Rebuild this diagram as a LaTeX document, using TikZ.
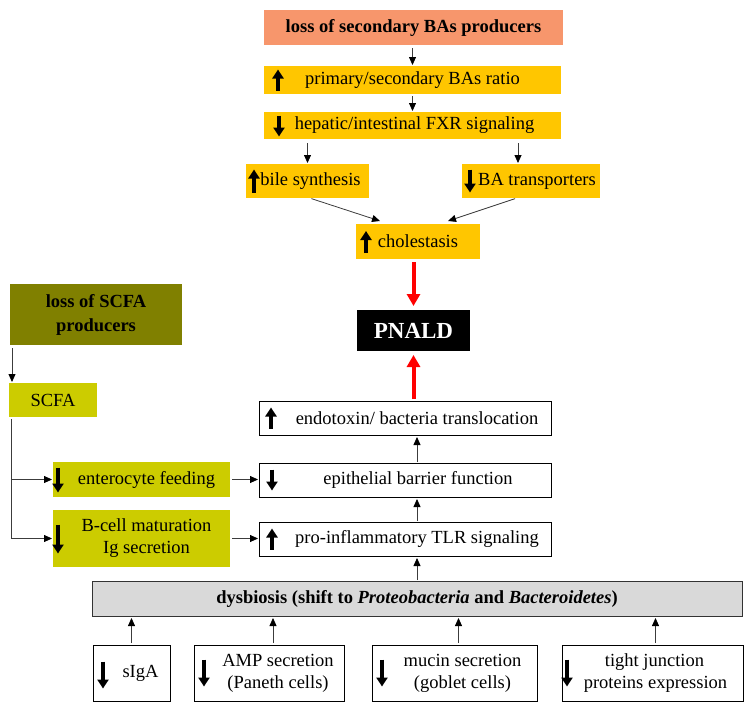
\documentclass[tikz,border=0pt]{standalone}
\usepackage{fontspec}
\setmainfont{Liberation Serif}
\usetikzlibrary{arrows.meta,calc}
\definecolor{salmon}{RGB}{247,150,108}
\definecolor{gold}{RGB}{255,198,0}
\definecolor{olivebox}{RGB}{128,128,0}
\definecolor{limebox}{RGB}{204,204,0}
\definecolor{graybox}{RGB}{217,217,217}
\definecolor{connline}{RGB}{60,60,60}
\newcommand\mkbox[7]{\node[#2, minimum width={(#5)-(#3)}, minimum height={(#6)-(#4)}] (#1) at ({((#3)+(#5))/2},{((#4)+(#6))/2}) {#7};}
\newcommand\upglyph[3]{\draw[glyph] (#1,{#2+#3/2}) -- (#1,{#2-#3/2});}
\newcommand\downglyph[3]{\draw[glyph] (#1,{#2-#3/2}) -- (#1,{#2+#3/2});}
\begin{document}
\begin{tikzpicture}[x=1pt,y=-1pt,
  base/.style={inner sep=0pt, outer sep=0pt, align=center, font=\fontsize{18.5}{22}\selectfont},
  salmonbox/.style={base, fill=salmon, font=\fontsize{18.5}{22}\selectfont\bfseries},
  goldbox/.style={base, fill=gold},
  olbox/.style={base, fill=olivebox, font=\fontsize{18.5}{24}\selectfont\bfseries},
  limbox/.style={base, fill=limebox},
  whitebox/.style={base, fill=white, draw=black, line width=0.9pt},
  dysbox/.style={base, fill=graybox, draw=black!80, line width=1pt, font=\fontsize{18.5}{22}\selectfont\bfseries},
  pnaldbox/.style={base, fill=black, text=white, font=\fontsize{23}{26}\selectfont\bfseries},
  conn/.style={draw=connline, line width=0.8pt, -{Triangle[length=8pt,width=7pt,color=black]}},
  redarrow/.style={draw=red, line width=4pt, -{Triangle[length=12pt,width=13pt]}},
  glyph/.style={draw=black, line width=4pt, -{Triangle[length=9pt,width=11pt]}}
]
\useasboundingbox (0,0) rectangle (753,712);

% bile acid branch
\mkbox{secBA}{salmonbox}{264}{10}{563}{45}{loss of secondary BAs producers}
\mkbox{ratio}{goldbox}{264}{66}{561}{94}{primary/secondary BAs ratio}
\mkbox{fxr}{goldbox}{264}{112}{561}{139}{\hspace*{4pt}hepatic/intestinal FXR signaling}
\mkbox{bile}{goldbox}{246}{164}{369}{198}{\hspace*{6pt}bile synthesis}
\mkbox{BAt}{goldbox}{462}{164}{600}{198}{\hspace*{12pt}BA transporters}
\mkbox{chol}{goldbox}{356}{224}{480}{259}{cholestasis}
\mkbox{pnald}{pnaldbox}{357}{310}{470}{351}{PNALD}

% right column
\mkbox{endo}{whitebox}{259}{401}{551}{435}{\hspace*{24pt}endotoxin/ bacteria translocation}
\mkbox{epi}{whitebox}{259}{463}{551}{497}{\hspace*{26pt}epithelial barrier function}
\mkbox{pro}{whitebox}{259}{522}{551}{556}{\hspace*{24pt}pro-inflammatory TLR signaling}
\mkbox{dys}{dysbox}{92}{581}{742}{616}{dysbiosis (shift to \textit{Proteobacteria} and \textit{Bacteroidetes})}

% bottom row
\mkbox{siga}{whitebox}{93}{645}{170}{701}{\hspace*{18pt}sIgA}
\mkbox{amp}{whitebox}{194}{645}{344}{701}{\hspace*{18pt}AMP secretion\\\hspace*{18pt}(Paneth cells)}
\mkbox{mucin}{whitebox}{372}{645}{537}{701}{\hspace*{16pt}mucin secretion\\\hspace*{16pt}(goblet cells)}
\mkbox{tight}{whitebox}{562}{645}{743}{701}{\hspace*{4pt}tight junction\\\hspace*{6pt}proteins expression}

% SCFA branch
\mkbox{scfaloss}{olbox}{10}{284}{182}{345}{loss of SCFA\\producers}
\mkbox{scfa}{limbox}{9}{383}{97}{417}{SCFA}
\mkbox{ent}{limbox}{53}{462}{230}{497}{\hspace*{10pt}enterocyte feeding}
\mkbox{bcell}{limbox}{53}{510}{230}{567}{\hspace*{10pt}B-cell maturation\\\hspace*{10pt}Ig secretion}

% in-box arrows
\upglyph{278}{80}{21}
\downglyph{279}{126}{21}
\upglyph{254}{181}{23}
\downglyph{470}{181}{23}
\upglyph{366}{242}{22}
\upglyph{271}{418}{21}
\downglyph{272}{480}{21}
\upglyph{272}{539}{21}
\downglyph{58}{480}{25}
\downglyph{58}{539}{29}
\downglyph{103}{675}{27}
\downglyph{204}{673}{27}
\downglyph{382}{673}{27}
\downglyph{567}{673}{27}

% connectors
\draw[conn, shorten <=3pt, shorten >=1pt] (secBA.south -| ratio.north) -- (ratio.north);
\draw[conn, shorten <=2pt, shorten >=1pt] (ratio.south) -- (ratio.south |- fxr.north);
\draw[conn, shorten <=4pt, shorten >=1pt] (fxr.south -| bile.north) -- (bile.north);
\draw[conn, shorten <=4pt, shorten >=1pt] ([xshift=-13pt]BAt.north |- fxr.south) -- ([xshift=-13pt]BAt.north);
\draw[conn, shorten <=2pt] ([xshift=2pt]bile.south) -- ([xshift=-38pt,yshift=3pt]chol.north);
\draw[conn, shorten <=2pt] ([xshift=-14pt]BAt.south) -- ([xshift=30pt,yshift=3pt]chol.north);
\draw[redarrow, shorten <=3pt, shorten >=4pt] (chol.south -| pnald.north) -- (pnald.north);
\draw[redarrow, shorten <=2pt, shorten >=4pt] (endo.north -| pnald.south) -- (pnald.south);
\draw[conn, shorten <=1pt, shorten >=2pt] ([xshift=12pt]epi.north) -- ([xshift=12pt]endo.south);
\draw[conn, shorten <=1pt, shorten >=2pt] ([xshift=12pt]pro.north) -- ([xshift=12pt]epi.south);
\draw[conn, shorten <=1pt, shorten >=2pt] ([xshift=12pt]pro.south |- dys.north) -- ([xshift=12pt]pro.south);
\draw[conn, shorten <=2pt, shorten >=2pt] (siga.north) -- (siga.north |- dys.south);
\draw[conn, shorten <=2pt, shorten >=2pt] ([xshift=4pt]amp.north) -- ([xshift=4pt]amp.north |- dys.south);
\draw[conn, shorten <=2pt, shorten >=2pt] ([xshift=4pt]mucin.north) -- ([xshift=4pt]mucin.north |- dys.south);
\draw[conn, shorten <=2pt, shorten >=2pt] ([xshift=3pt]tight.north) -- ([xshift=3pt]tight.north |- dys.south);
\draw[conn, shorten <=3pt, shorten >=1pt] ([xshift=2pt]scfaloss.south west) -- ([xshift=3pt]scfa.north west);
\draw[conn, shorten <=2pt, shorten >=1pt] ([xshift=2pt]scfa.south west) |- (ent.west);
\draw[conn, shorten <=2pt, shorten >=1pt] ([xshift=2pt]scfa.south west) |- (bcell.west);
\draw[conn, shorten <=2pt, shorten >=1pt] (ent.east) -- (ent.east -| epi.west);
\draw[conn, shorten <=2pt, shorten >=1pt] (bcell.east) -- (bcell.east -| pro.west);
\end{tikzpicture}
\end{document}
